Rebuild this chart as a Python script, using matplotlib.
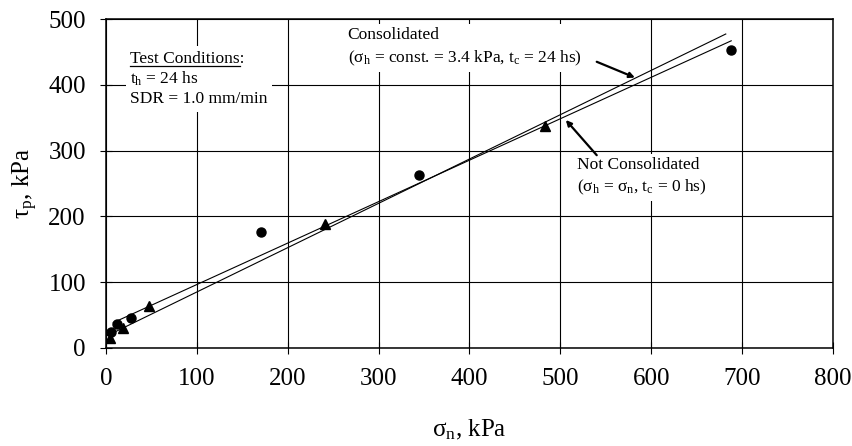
import matplotlib
matplotlib.use("Agg")
import matplotlib.pyplot as plt
import numpy as np
from matplotlib.lines import Line2D

plt.rcParams['font.family'] = ['Liberation Serif', 'DejaVu Serif']
plt.rcParams['mathtext.fontset'] = 'custom'
plt.rcParams['mathtext.rm'] = 'Liberation Serif'
plt.rcParams['mathtext.it'] = 'Liberation Serif:italic'
plt.rcParams['mathtext.bf'] = 'Liberation Serif:bold'

# ---- data ----
circle_x = [6, 12.5, 27.5, 171, 344, 688]
circle_y = [25, 36, 46, 176, 263, 453]
triangle_x = [4.4, 19, 47.6, 241, 483]
triangle_y = [15, 30, 64, 189, 338]

# fitted lines: (intercept, slope, x_start, x_end)
fit_a = (33.5, 0.6299, 8, 688)    # lower at right end
fit_b = (17.8, 0.6736, 1.5, 682)  # upper at right end

x_ticks = [0, 100, 200, 300, 400, 500, 600, 700, 800]
y_ticks = [0, 100, 200, 300, 400, 500]

fig = plt.figure(figsize=(8.53, 4.46), dpi=100)
ax = fig.add_axes([106/853, 1-348/446, 727/853, 329/446])
ax.set_xlim(0, 800)
ax.set_ylim(0, 500)
ax.set_xticks(x_ticks)
ax.set_yticks(y_ticks)
ax.tick_params(direction='inout', length=9, width=0.8, labelsize=18, color='black')
ax.tick_params(axis='x', pad=10)
ax.tick_params(axis='y', pad=10)
ax.set_axisbelow(True)
ax.grid(True, color='black', linewidth=0.8)
for s in ax.spines.values():
    s.set_linewidth(1.1)
    s.set_color('black')

for (b, m, x0, x1) in (fit_a, fit_b):
    xs = np.array([x0, x1])
    ax.plot(xs, b + m * xs, color='black', linewidth=0.8, zorder=3)

ax.plot(circle_x, circle_y, linestyle='none', marker='o', markersize=6.5,
        color='black', zorder=4)
ax.plot(triangle_x, triangle_y, linestyle='none', marker='^', markersize=7,
        color='black', zorder=4)

ax.set_xlabel(r'σ$_\mathregular{n}$, kPa', fontsize=18, labelpad=20)
ax.set_ylabel(r'τ$_\mathregular{p}$, kPa', fontsize=18, labelpad=6)

box = dict(facecolor='white', edgecolor='none', pad=3)
fs = 12.5
tc_x, tc_y = 26.4, 452
ax.text(tc_x, tc_y, 'Test Conditions:\n' + r't$_\mathregular{h}$ = 24 hs' + '\nSDR = 1.0 mm/min',
        fontsize=fs, va='top', ha='left', linespacing=1.25, bbox=box, zorder=5)
ax.text(266, 488, 'Consolidated\n' + r'(σ$_\mathregular{h}$ = const. = 3.4 kPa, t$_\mathregular{c}$ = 24 hs)',
        fontsize=fs, va='top', ha='left', linespacing=1.4, bbox=box, zorder=5)
ax.text(518, 291, 'Not Consolidated\n' + r'(σ$_\mathregular{h}$ = σ$_\mathregular{n}$, t$_\mathregular{c}$ = 0 hs)',
        fontsize=fs, va='top', ha='left', linespacing=1.35, bbox=box, zorder=5)

arrow = dict(arrowstyle='-|>', color='black', lw=1.6, mutation_scale=8, shrinkA=0, shrinkB=0)
ax.annotate('', xy=(582, 411), xytext=(540, 435), arrowprops=arrow, zorder=6)
ax.annotate('', xy=(506, 346.5), xytext=(540, 293), arrowprops=arrow, zorder=6)

# underline "Test Conditions"
fig.canvas.draw()
r = fig.canvas.get_renderer()
meas = ax.text(tc_x, tc_y, 'Test Conditions', fontsize=fs, va='top', ha='left')
bb = meas.get_window_extent(renderer=r)
meas.remove()
y_ul = bb.y1 - fs * 100 / 72 * 0.9
inv = fig.transFigure.inverted()
(fx0, fy), (fx1, _) = inv.transform([(bb.x0, y_ul), (bb.x1, y_ul)])
fig.add_artist(Line2D([fx0, fx1], [fy, fy], color='black', linewidth=0.9, zorder=7))

fig.savefig('out.png', dpi=100)
